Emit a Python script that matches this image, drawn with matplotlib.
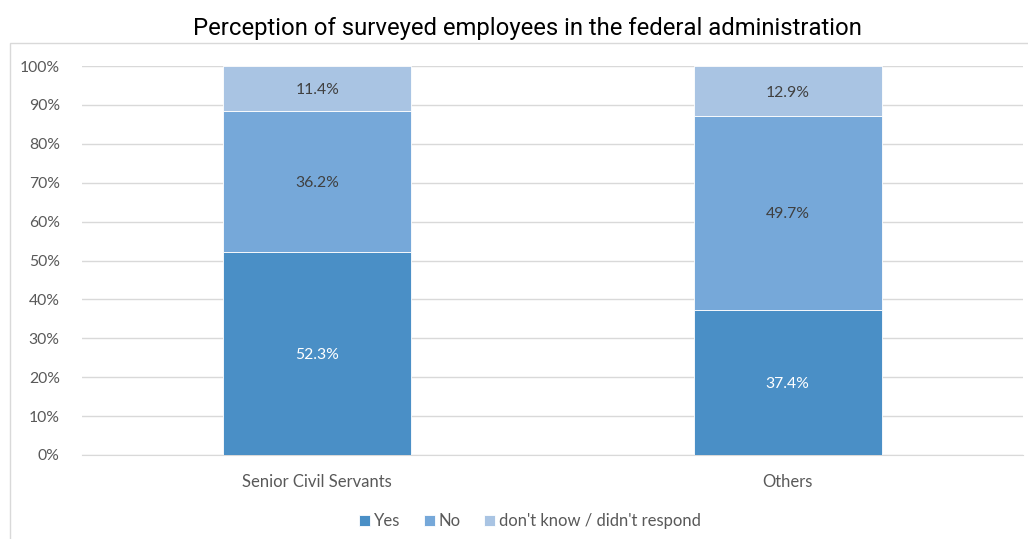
import matplotlib
matplotlib.use("Agg")
import matplotlib.pyplot as plt
from matplotlib.patches import Rectangle
from matplotlib.ticker import PercentFormatter, MultipleLocator

categories = ["Senior Civil Servants", "Others"]
series_names = ["Yes", "No", "don't know / didn't respond"]
yes_vals = [52.3, 37.4]
no_vals = [36.2, 49.7]
dk_vals = [11.4, 12.9]
colors = ["#4A8FC6", "#76A8D9", "#A9C4E3"]
label_colors = ["white", "#404040", "#404040"]

body_font = ["Lato", "DejaVu Sans"]
title_font = ["Roboto", "Liberation Sans", "DejaVu Sans"]

fig = plt.figure(figsize=(10.28, 5.39), dpi=100)
ax = fig.add_axes([82 / 1028, 1 - 455 / 539, (1023 - 82) / 1028, (455 - 66) / 539])

# light frame around the chart area
fig.patches.append(Rectangle((10 / 1028, -0.01), 1.0, 1 - 43 / 539 + 0.01,
                             transform=fig.transFigure, fill=False,
                             edgecolor="#D9D9D9", linewidth=1.0))

x = range(len(categories))
bottom = [0.0] * len(categories)
for name, vals, col, lc in zip(series_names, [yes_vals, no_vals, dk_vals], colors, label_colors):
    bars = ax.bar(x, vals, width=0.4, bottom=bottom, color=col, label=name,
                  edgecolor="white", linewidth=0.6, zorder=3)
    for b, v in zip(bars, vals):
        ax.text(b.get_x() + b.get_width() / 2, b.get_y() + b.get_height() / 2,
                f"{v:.1f}%", ha="center", va="center_baseline", color=lc,
                fontsize=11.3, family=body_font, zorder=4)
    bottom = [b0 + v for b0, v in zip(bottom, vals)]

ax.set_xlim(-0.5, 1.5)
ax.set_ylim(0, 100)
ax.yaxis.set_major_locator(MultipleLocator(10))
ax.yaxis.set_major_formatter(PercentFormatter(decimals=0))
ax.set_xticks(list(x))
ax.set_xticklabels(categories)
ax.grid(axis="y", color="#D9D9D9", linewidth=1.0, zorder=0)
for s in ["top", "right", "left"]:
    ax.spines[s].set_visible(False)
ax.spines["bottom"].set_color("#D9D9D9")
ax.tick_params(axis="both", length=0, labelcolor="#595959")
ax.tick_params(axis="y", pad=16, labelsize=11.3)
ax.tick_params(axis="x", pad=14, labelsize=12)
for lab in ax.get_xticklabels() + ax.get_yticklabels():
    lab.set_family(body_font)

fig.text(527 / 1028, 1 - 28 / 539, "Perception of surveyed employees in the federal administration",
         ha="center", va="center", fontsize=17.2, family=title_font, color="black")

leg = fig.legend(loc="center", bbox_to_anchor=(530 / 1028, 1 - 521 / 539), ncol=3,
                 frameon=False, handlelength=0.65, handleheight=0.65, handletextpad=0.25,
                 columnspacing=1.4, prop={"family": body_font, "size": 12})
for t in leg.get_texts():
    t.set_color("#595959")

fig.savefig("out.png", dpi=100, facecolor="white")
